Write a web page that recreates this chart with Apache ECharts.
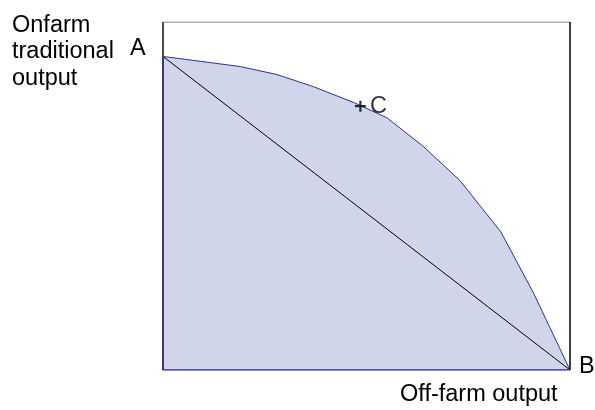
<!DOCTYPE html>
<html>
<head>
<meta charset="utf-8">
<script src="https://cdn.jsdelivr.net/npm/echarts@6/dist/echarts.min.js"></script>
<style>
  html, body { margin: 0; padding: 0; background: #fff; }
  #chart { width: 595px; height: 410px; }
</style>
</head>
<body>
<div id="chart"></div>
<script>
// production possibility frontier (0..100 on both axes)
const frontierX = [0, 19, 28, 37, 47, 55, 64, 73, 83, 91, 100];
const frontierY = [90.1, 87.2, 84.9, 81.4, 76.8, 72.5, 64.2, 54.4, 39.7, 22.2, 0];
const chordX = [0, 100];
const chordY = [90.1, 0];
const pointC = [48.5, 75.8];

const FONT = 'Liberation Sans, Arial, Helvetica, sans-serif';
const FONT_SIZE = 23.5;
const chart = echarts.init(document.getElementById('chart'));

const toPairs = (xs, ys) => xs.map((x, i) => [x, ys[i]]);

chart.setOption({
  animation: false,
  grid: { left: 163, right: 25, top: 22, bottom: 40 },
  xAxis: {
    type: 'value', min: 0, max: 100,
    axisLine: { show: false }, axisTick: { show: false },
    axisLabel: { show: false }, splitLine: { show: false },
  },
  yAxis: {
    type: 'value', min: 0, max: 100,
    axisLine: { show: false }, axisTick: { show: false },
    axisLabel: { show: false }, splitLine: { show: false },
  },
  series: [
    {
      // frame
      type: 'line',
      data: [[0, 100], [100, 100]],
      symbol: 'none',
      lineStyle: { color: '#666', width: 1 },
      z: 5,
    },
    {
      type: 'line',
      data: [[100, 100], [100, 0]],
      symbol: 'none',
      lineStyle: { color: '#000', width: 1.5 },
      z: 5,
    },
    {
      type: 'line',
      data: [[0, 0], [0, 100]],
      symbol: 'none',
      lineStyle: { color: '#4a4a4a', width: 2 },
      z: 4,
    },
    {
      type: 'line',
      data: toPairs(frontierX, frontierY),
      symbol: 'none',
      lineStyle: { color: '#2e3192', width: 1 },
      areaStyle: { color: '#d0d5e9', opacity: 1 },
      z: 2,
    },
    {
      type: 'line',
      data: [[0, frontierY[0]], [0, 0], [100, 0]],
      symbol: 'none',
      lineStyle: { color: '#2e3192', width: 1.5 },
      z: 6,
    },
    {
      type: 'line',
      data: toPairs(chordX, chordY),
      symbol: 'none',
      lineStyle: { color: '#000', width: 1 },
      z: 3,
    },
    {
      type: 'scatter',
      data: [pointC],
      symbol: 'path://M4,0 L6,0 L6,4 L10,4 L10,6 L6,6 L6,10 L4,10 L4,6 L0,6 L0,4 L4,4 Z',
      symbolSize: 11,
      itemStyle: { color: '#000' },
      label: {
        show: true, position: 'right', distance: 4, formatter: 'C',
        color: '#000', fontFamily: FONT, fontSize: FONT_SIZE,
      },
      z: 7,
    },
  ],
  graphic: [
    {
      type: 'text', left: 12, top: 12,
      style: {
        text: 'Onfarm\ntraditional\noutput', fill: '#000',
        font: FONT_SIZE + 'px ' + FONT, lineHeight: 26.5,
      },
    },
    {
      type: 'text', left: 130, top: 37,
      style: { text: 'A', fill: '#000', font: FONT_SIZE + 'px ' + FONT },
    },
    {
      type: 'text', left: 579, top: 355,
      style: { text: 'B', fill: '#000', font: FONT_SIZE + 'px ' + FONT },
    },
    {
      type: 'text', left: 400, top: 383,
      style: { text: 'Off-farm output', fill: '#000', font: FONT_SIZE + 'px ' + FONT },
    },
  ],
});
</script>
</body>
</html>
